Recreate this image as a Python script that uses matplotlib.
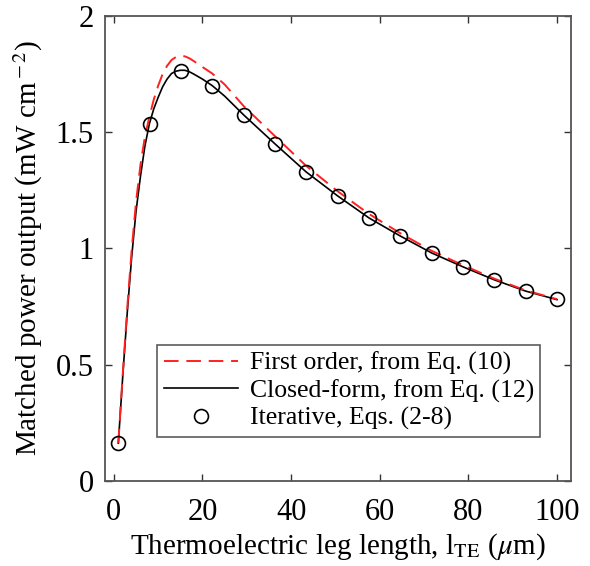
import matplotlib
matplotlib.use("Agg")
import matplotlib.pyplot as plt

plt.rcParams["font.family"] = ["Liberation Serif", "DejaVu Serif"]
plt.rcParams["mathtext.fontset"] = "stix"

# Leg length (um) and matched power output (mW cm^-2)
x_first = [1, 2, 3, 4, 5, 6, 7, 8, 9, 10, 11, 12, 13, 14, 15, 16, 17, 18, 20,
           22.2, 25, 29.3, 36.4, 43.4, 50.5, 57.6, 64.6, 71.7, 78.8, 85.9, 92.9, 100]
p_first = [0.163, 0.46, 0.74, 0.99, 1.20, 1.36, 1.48, 1.565, 1.64, 1.70, 1.75, 1.785,
           1.81, 1.823, 1.828, 1.826, 1.818, 1.806, 1.78, 1.752, 1.705, 1.612, 1.482,
           1.355, 1.246, 1.148, 1.066, 0.99, 0.928, 0.87, 0.82, 0.782]

x_closed = [1, 2, 3, 4, 5, 6, 7, 8, 9, 10, 11, 12, 13, 14, 15, 16, 17, 18, 20,
            22.2, 25, 29.3, 36.4, 43.4, 50.5, 57.6, 64.6, 71.7, 78.8, 85.9, 92.9, 100]
p_closed = [0.163, 0.45, 0.72, 0.96, 1.16, 1.31, 1.44, 1.535, 1.60, 1.65, 1.695, 1.728,
            1.752, 1.762, 1.766, 1.766, 1.76, 1.75, 1.728, 1.70, 1.655, 1.574, 1.449,
            1.329, 1.226, 1.131, 1.054, 0.981, 0.921, 0.865, 0.817, 0.78]

x_iter = [1, 8.07, 15.14, 22.21, 29.29, 36.36, 43.43, 50.5, 57.57, 64.64, 71.71,
          78.79, 85.86, 92.93, 100]
p_iter = [0.163, 1.535, 1.765, 1.70, 1.574, 1.449, 1.329, 1.226, 1.131, 1.054, 0.981,
          0.921, 0.865, 0.817, 0.781]

x_ticks = [0, 20, 40, 60, 80, 100]
y_ticks = [0, 0.5, 1, 1.5, 2]
y_ticklabels = ["0", "0.5", "1", "1.5", "2"]

fig = plt.figure(figsize=(5.9, 5.66), dpi=100)
ax = fig.add_axes([0.178, 0.150, 0.790, 0.822])

ax.plot(x_first, p_first, color="#ff2020", lw=1.4, dashes=(7.5, 4.0),
        label="First order, from Eq. (10)", zorder=3)
ax.plot(x_closed, p_closed, color="black", lw=1.2,
        label="Closed-form, from Eq. (12)", zorder=2)
ax.plot(x_iter, p_iter, ls="none", marker="o", ms=10, mfc="none", mec="black",
        mew=1.2, label="Iterative, Eqs. (2-8)", zorder=4)

ax.set_xlim(-2.0, 103.2)
ax.set_ylim(0, 2)
ax.set_xticks(x_ticks)
ax.set_yticks(y_ticks)
ax.set_yticklabels(y_ticklabels)
ax.tick_params(direction="in", length=5, width=1.0, top=True, right=True,
               labelsize=22, colors="#333333", labelcolor="black")
ax.tick_params(axis="x", pad=12)
ax.tick_params(axis="y", pad=8)
for s in ax.spines.values():
    s.set_color("#555555")
    s.set_linewidth(1.3)

ax.set_xlabel(r"Thermoelectric leg length, l$_{\rm TE}$ ($\mu$m)", fontsize=21, labelpad=3)
ax.set_ylabel(r"Matched power output (mW cm$^{\rm -2}$)", fontsize=21, labelpad=8)

leg = ax.legend(loc="lower left", bbox_to_anchor=(0.112, 0.095), fontsize=18.5,
                frameon=True, fancybox=False, edgecolor="#333333",
                handlelength=2.9, handletextpad=0.45, labelspacing=0.17,
                borderpad=0.25, borderaxespad=0)
leg.get_frame().set_linewidth(1.2)

fig.savefig("out.png", dpi=100)
